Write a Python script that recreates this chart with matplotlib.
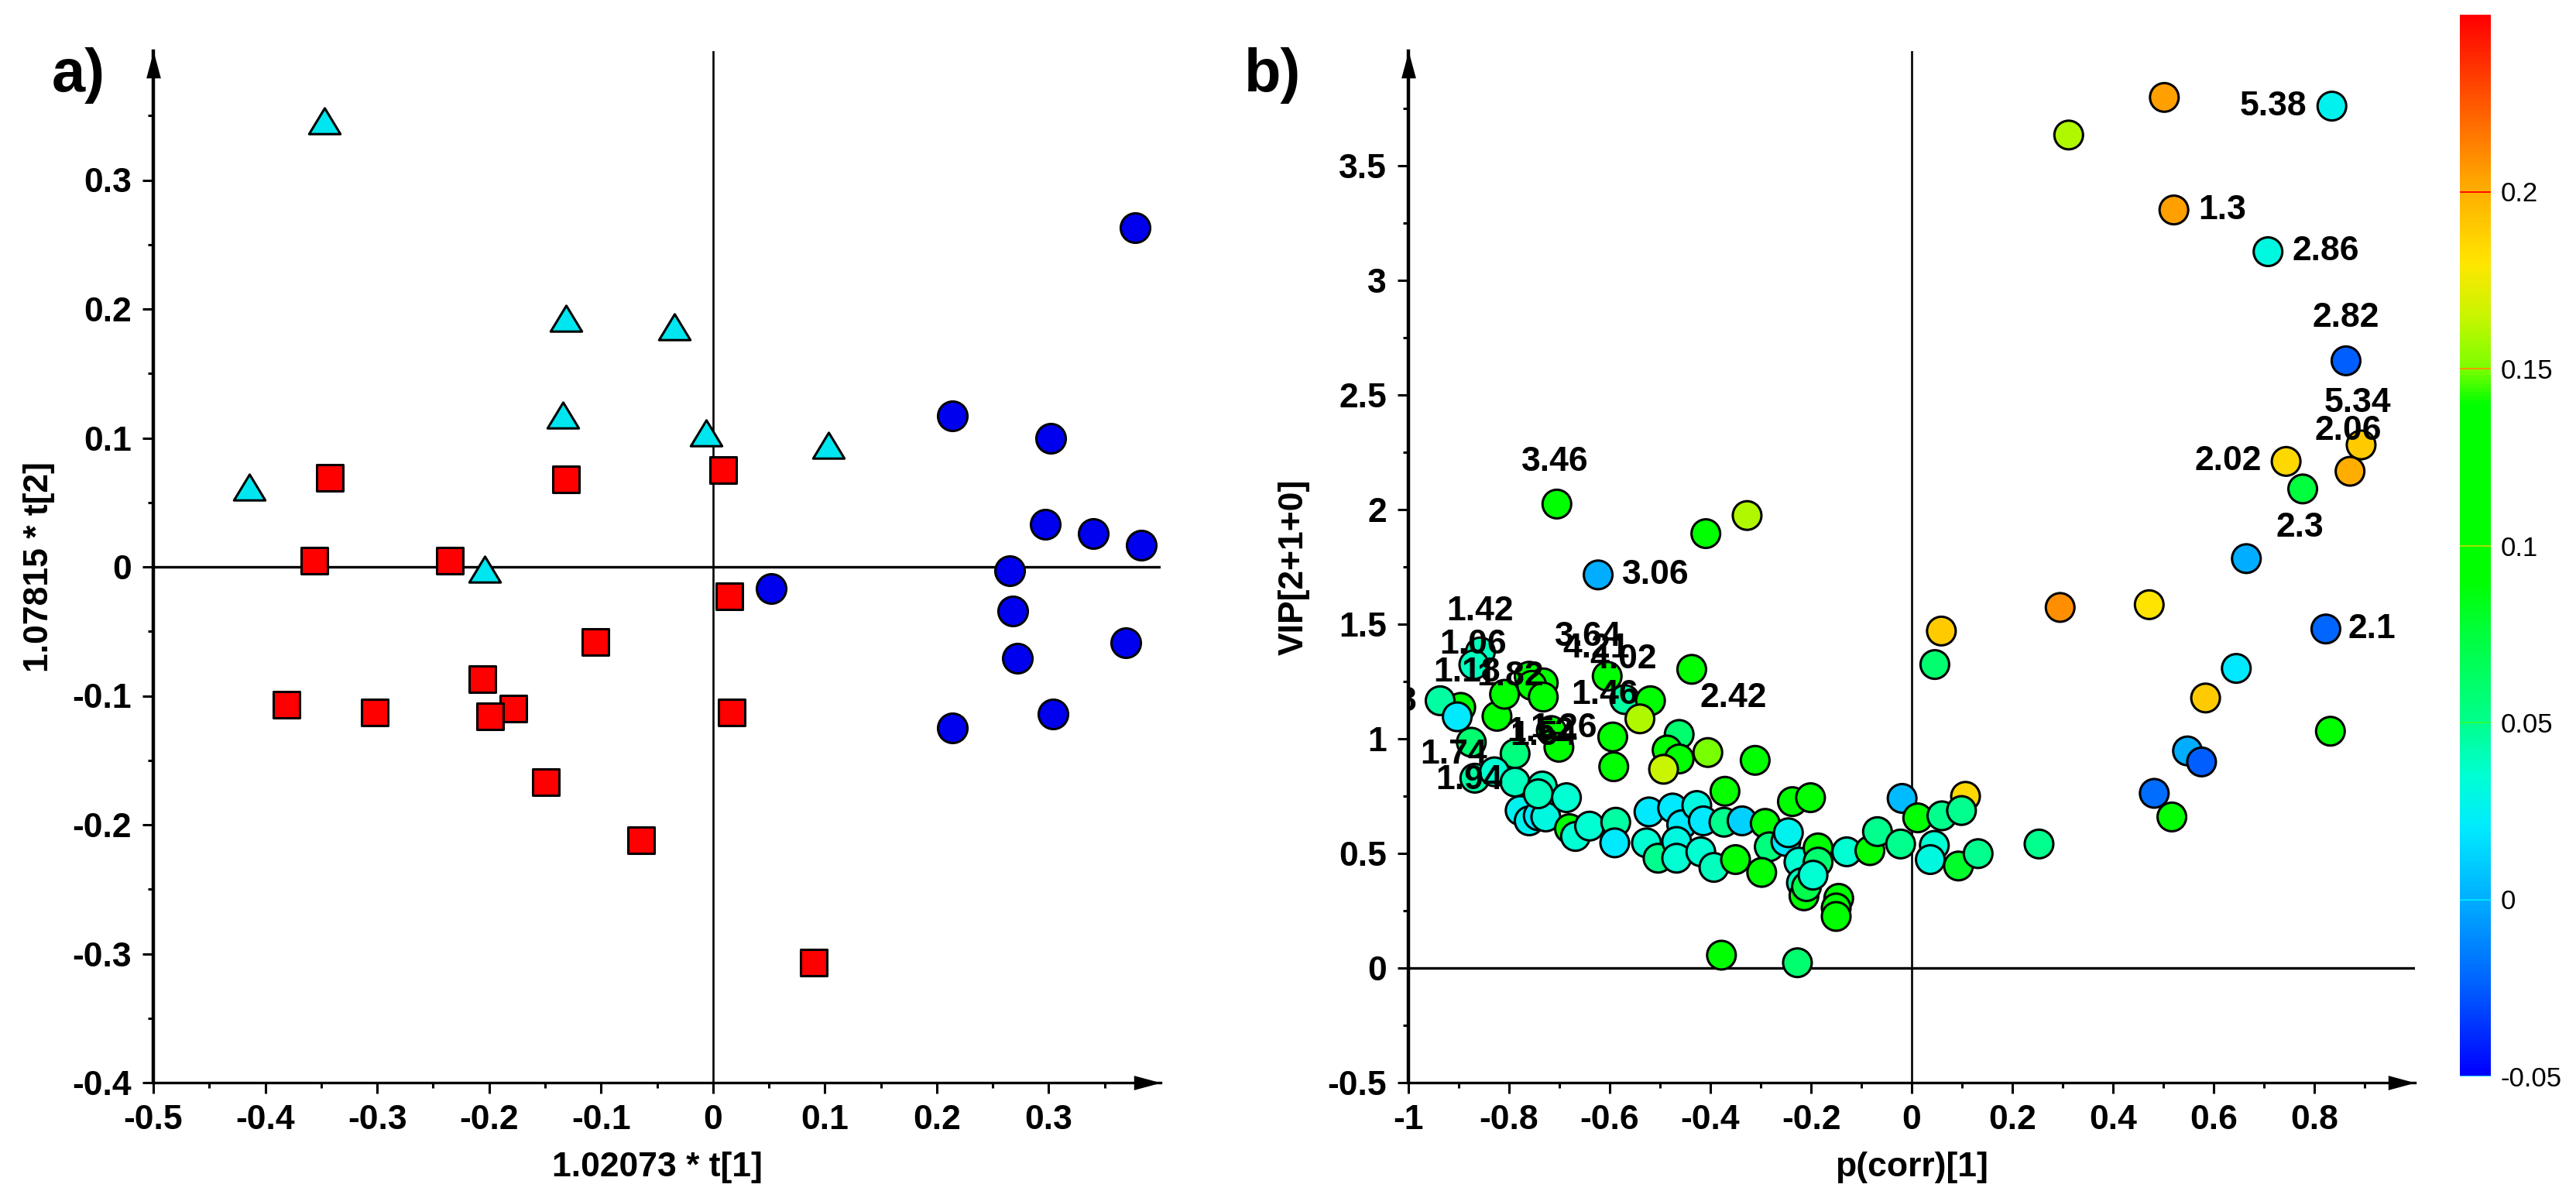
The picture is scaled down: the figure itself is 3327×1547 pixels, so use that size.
import numpy as np
import matplotlib
matplotlib.use('Agg')
import matplotlib.pyplot as plt
from matplotlib.colors import LinearSegmentedColormap, Normalize
from matplotlib.cm import ScalarMappable
from matplotlib.path import Path
from matplotlib.ticker import FixedLocator, FuncFormatter

plt.rcParams['font.family'] = ['Liberation Sans', 'DejaVu Sans']
plt.rcParams['axes.unicode_minus'] = False

# ---------------- Panel a data (score plot) ----------------
tri_x = [-0.347, -0.131, -0.0345, -0.134, -0.006, 0.103, -0.414, -0.204]
tri_y = [0.346, 0.193, 0.186, 0.118, 0.104, 0.094, 0.062, -0.002]

sq_x = [-0.342, -0.131, 0.009, -0.356, -0.235, 0.015, -0.105, -0.206,
        -0.381, -0.302, -0.178, -0.199, 0.017, -0.149, -0.064, 0.090]
sq_y = [0.069, 0.068, 0.075, 0.005, 0.005, -0.023, -0.058, -0.087,
        -0.107, -0.113, -0.110, -0.116, -0.113, -0.167, -0.212, -0.307]

circ_x = [0.377, 0.214, 0.302, 0.297, 0.340, 0.383, 0.265, 0.052,
          0.268, 0.369, 0.272, 0.304, 0.214]
circ_y = [0.263, 0.117, 0.100, 0.033, 0.026, 0.017, -0.003, -0.017,
          -0.034, -0.059, -0.071, -0.114, -0.125]

a_xticks = [-0.5, -0.4, -0.3, -0.2, -0.1, 0, 0.1, 0.2, 0.3]
a_yticks = [-0.4, -0.3, -0.2, -0.1, 0, 0.1, 0.2, 0.3]

# ---------------- Panel b data (VIP vs p(corr)) ----------------
pb_x = [0.835, 0.521, 0.708, 0.863, 0.893, 0.871, 0.744, 0.777, 0.823,
        -0.705, -0.623, -0.857, -0.896, -0.760, -0.605, -0.570, -0.437,
        -0.716, -0.875, -0.868, -0.937,
        -0.409, -0.327, -0.870, -0.824, -0.903, -0.809, -0.732, -0.755,
        -0.732, -0.788, -0.701, -0.519, -0.540, -0.594, -0.592, -0.462,
        -0.486, -0.462, -0.405, -0.311, -0.493,
        -0.829, -0.788, -0.778, -0.760, -0.742, -0.727, -0.734, -0.742,
        -0.686, -0.680, -0.668, -0.640, -0.588, -0.590, -0.522, -0.527,
        -0.504, -0.475, -0.457, -0.467, -0.467, -0.427, -0.414, -0.419,
        -0.393, -0.373, -0.371, -0.337, -0.350, -0.291, -0.283, -0.298,
        -0.250, -0.245, -0.237, -0.201, -0.224, -0.219, -0.214, -0.209,
        -0.186, -0.186, -0.196, -0.145, -0.150, -0.150, -0.129, -0.083,
        -0.068, -0.022, -0.019, 0.012, 0.060, 0.107, 0.099, 0.045, 0.037,
        0.093, 0.132, 0.253, -0.378, -0.227,
        0.502, 0.312, 0.295, 0.472, 0.059, 0.046, 0.645, 0.584, 0.832,
        0.548, 0.576, 0.482, 0.517, 0.665]
pb_y = [3.760, 3.307, 3.125, 2.649, 2.282, 2.167, 2.210, 2.090, 1.479,
        2.024, 1.715, 1.379, 1.137, 1.273, 1.273, 1.171, 1.303,
        1.036, 0.985, 0.828, 1.166,
        1.895, 1.974, 1.323, 1.098, 1.096, 1.194, 1.244, 1.233,
        1.182, 0.935, 0.963, 1.166, 1.087, 1.008, 0.878, 1.019,
        0.951, 0.912, 0.940, 0.906, 0.867,
        0.856, 0.811, 0.687, 0.642, 0.664, 0.659, 0.794, 0.760,
        0.743, 0.608, 0.574, 0.619, 0.636, 0.546, 0.681, 0.546,
        0.479, 0.698, 0.625, 0.552, 0.479, 0.709, 0.642, 0.507,
        0.439, 0.636, 0.771, 0.642, 0.473, 0.631, 0.529, 0.417,
        0.552, 0.590, 0.726, 0.743, 0.462, 0.372, 0.315, 0.355,
        0.524, 0.462, 0.405, 0.304, 0.262, 0.225, 0.507, 0.512,
        0.595, 0.541, 0.740, 0.655, 0.664, 0.749, 0.687, 0.535, 0.473,
        0.445, 0.499, 0.541, 0.056, 0.023,
        3.798, 3.634, 1.573, 1.585, 1.470, 1.324, 1.307, 1.178, 1.033,
        0.947, 0.899, 0.762, 0.659, 1.786]
pb_c = [0.025, 0.205, 0.03, -0.025, 0.19, 0.2, 0.185, 0.075, -0.022,
        0.1, 0.0, 0.04, 0.1, 0.1, 0.1, 0.045, 0.1,
        0.1, 0.06, 0.045, 0.045,
        0.1, 0.16, 0.04, 0.1, 0.02, 0.1, 0.1, 0.1,
        0.1, 0.055, 0.1, 0.1, 0.16, 0.1, 0.1, 0.06,
        0.1, 0.1, 0.15, 0.1, 0.165,
        0.035, 0.04, 0.025, 0.025, 0.02, 0.03, 0.04, 0.04,
        0.035, 0.1, 0.035, 0.035, 0.045, 0.02, 0.02, 0.035,
        0.05, 0.02, 0.02, 0.03, 0.035, 0.03, 0.02, 0.035,
        0.04, 0.05, 0.14, 0.012, 0.1, 0.1, 0.055, 0.1,
        0.02, 0.025, 0.1, 0.1, 0.035, 0.04, 0.1, 0.07,
        0.1, 0.06, 0.035, 0.1, 0.1, 0.1, 0.035, 0.1,
        0.05, 0.05, 0.005, 0.1, 0.05, 0.185, 0.05, 0.035, 0.03,
        0.08, 0.05, 0.05, 0.1, 0.06,
        0.205, 0.16, 0.21, 0.18, 0.19, 0.06, 0.02, 0.19, 0.09,
        0.0, -0.025, -0.02, 0.09, 0.0]

# labels: text, index of the labelled point, offset (px right, px down), alignment
lab_text = ['5.38', '1.3', '2.86', '2.82', '5.34', '2.06', '2.02', '2.3', '2.1',
            '3.46', '3.06', '1.42', '1.06', '1.18', '1.82', '3.64', '4.21',
            '4.02', '1.46', '2.42', '1.54', '1.26', '1.52', '1.74', '1.94', '1.38']
lab_idx = [0, 1, 2, 3, 4, 5, 6, 7, 8, 9, 10, 11, 11, 12, 13, 14, 14, 14, 15, 16,
           17, 17, 17, 18, 19, 20]
lab_dx = [-32, 32, 31, 0, -4, -2, -32, -4, 29, -2, 31, 0, -9, 8, -25, -24, -14,
          21, -26, 54, -10, 16, -14, -23, -7, -30]
lab_dy = [0, 0, 0, -55, -54, -52, 0, 50, 0, -54, 0, -52, -9, -45, 0, -51, -36,
          -22, -6, 37, 7, -3, 2, 16, 3, 2]
lab_ha = ['right', 'left', 'left', 'center', 'center', 'center', 'right', 'center',
          'left', 'center', 'left', 'center', 'center', 'center', 'center', 'center',
          'center', 'center', 'center', 'center', 'center', 'center', 'center',
          'center', 'center', 'right']

b_xticks = [-1, -0.8, -0.6, -0.4, -0.2, 0, 0.2, 0.4, 0.6, 0.8]
b_yticks = [-0.5, 0, 0.5, 1, 1.5, 2, 2.5, 3, 3.5]
cb_ticks = [-0.05, 0, 0.05, 0.1, 0.15, 0.2]

# ---------------- colour map ----------------
cmin, cmax = -0.05, 0.25
nodes = [(-0.05, (0, 0, 255)), (-0.025, (0, 95, 255)), (0.0, (0, 175, 255)),
         (0.02, (0, 235, 255)), (0.035, (0, 255, 210)), (0.05, (0, 255, 140)),
         (0.075, (0, 255, 60)), (0.09, (0, 255, 0)), (0.14, (0, 255, 0)),
         (0.15, (120, 255, 0)), (0.165, (200, 245, 0)), (0.18, (255, 230, 0)),
         (0.195, (255, 190, 0)), (0.205, (255, 160, 0)), (0.25, (255, 0, 0))]
cmap = LinearSegmentedColormap.from_list(
    'vipmap', [((v - cmin) / (cmax - cmin), tuple(ch / 255 for ch in col)) for v, col in nodes])
norm = Normalize(cmin, cmax)

# ---------------- figure ----------------
W, H = 3327, 1547
fig = plt.figure(figsize=(W / 100, H / 100), dpi=100)

FS = 32
PX = 0.72  # points per pixel at dpi 100

arrow_r = Path([(-1, -0.27), (0, 0), (-1, 0.27), (-1, -0.27)],
               [Path.MOVETO, Path.LINETO, Path.LINETO, Path.CLOSEPOLY])
arrow_u = Path([(-0.27, -1), (0, 0), (0.27, -1), (-0.27, -1)],
               [Path.MOVETO, Path.LINETO, Path.LINETO, Path.CLOSEPOLY])
tri_marker = Path([(0, 0.825), (-1, -0.825), (1, -0.825), (0, 0.825)],
                  [Path.MOVETO, Path.LINETO, Path.LINETO, Path.CLOSEPOLY])


def fmt(v, p):
    v = round(v, 6)
    if v == 0:
        return '0'
    return f'{v:g}'


def style_axes(ax, xmaj, xmin_, ymaj, ymin_, xlabel, ylabel):
    for s in ('top', 'right'):
        ax.spines[s].set_visible(False)
    ax.spines['left'].set_linewidth(3.2)
    ax.spines['bottom'].set_linewidth(2.4)
    ax.xaxis.set_major_locator(FixedLocator(xmaj))
    ax.xaxis.set_minor_locator(FixedLocator(xmin_))
    ax.yaxis.set_major_locator(FixedLocator(ymaj))
    ax.yaxis.set_minor_locator(FixedLocator(ymin_))
    ax.xaxis.set_major_formatter(FuncFormatter(fmt))
    ax.yaxis.set_major_formatter(FuncFormatter(fmt))
    ax.tick_params(which='major', length=10, width=2.2, labelsize=FS, pad=10)
    ax.tick_params(which='minor', length=5, width=2.2)
    for lab in ax.get_xticklabels() + ax.get_yticklabels():
        lab.set_fontweight('bold')
    ax.axhline(0, color='k', lw=2.4, zorder=1)
    ax.axvline(0, color='k', lw=1.9, zorder=1)
    ax.plot([1], [0], marker=arrow_r, ms=50, color='k', mew=0,
            transform=ax.transAxes, clip_on=False, zorder=6)
    ax.plot([0], [1], marker=arrow_u, ms=50, color='k', mew=0,
            transform=ax.transAxes, clip_on=False, zorder=6)
    ax.set_xlabel(xlabel, fontsize=FS, fontweight='bold')
    ax.set_ylabel(ylabel, fontsize=FS, fontweight='bold')
    ax.xaxis.set_label_coords(0.5, -0.067)
    ax.yaxis.set_label_coords(-0.098, 0.5)


# ---- panel a ----
axa = fig.add_axes([198 / W, 1 - 1398 / H, 1301 / W, 1332 / H])
axa.set_xlim(-0.5, 0.4)
axa.set_ylim(-0.4, 0.4)
style_axes(axa, a_xticks, [-0.45, -0.35, -0.25, -0.15, -0.05, 0.05, 0.15, 0.25, 0.35],
           a_yticks, [-0.35, -0.25, -0.15, -0.05, 0.05, 0.15, 0.25, 0.35],
           '1.02073 * t[1]', '1.07815 * t[2]')
axa.scatter(tri_x, tri_y, s=850, marker=tri_marker, c='#00E6F0', edgecolors='k',
            linewidths=2.2, zorder=3)
axa.scatter(sq_x, sq_y, s=600, marker='s', c='#FF0000', edgecolors='k',
            linewidths=2.2, zorder=3)
axa.scatter(circ_x, circ_y, s=750, marker='o', c='#0000EE', edgecolors='k',
            linewidths=2.2, zorder=3)

# ---- panel b ----
axb = fig.add_axes([1819 / W, 1 - 1398 / H, 1300 / W, 1332 / H])
axb.set_xlim(-1, 1.0)
axb.set_ylim(-0.5, 4.0)
style_axes(axb, b_xticks, [-0.9, -0.7, -0.5, -0.3, -0.1, 0.1, 0.3, 0.5, 0.7, 0.9],
           b_yticks, [-0.25, 0.25, 0.75, 1.25, 1.75, 2.25, 2.75, 3.25, 3.75],
           'p(corr)[1]', 'VIP[2+1+0]')
axb.scatter(pb_x, pb_y, s=710, c=pb_c, cmap=cmap, norm=norm, edgecolors='k',
            linewidths=2.2, zorder=3)
for t, i, dx, dy, ha in zip(lab_text, lab_idx, lab_dx, lab_dy, lab_ha):
    axb.annotate(t, xy=(pb_x[i], pb_y[i]), xytext=(dx * PX, -dy * PX),
                 textcoords='offset points', ha=ha, va='center', fontsize=FS,
                 fontweight='bold', zorder=5, annotation_clip=False, clip_on=True)

# ---- panel letters ----
fig.text(67 / W, 1 - 118 / H, 'a)', fontsize=56, fontweight='bold',
         ha='left', va='baseline')
fig.text(1680 / W, 1 - 118 / H, 'b)', fontsize=56, fontweight='bold',
         ha='right', va='baseline')

# ---- colour bar ----
cax = fig.add_axes([3177 / W, 1 - 1390 / H, 40 / W, 1371 / H])
cb = fig.colorbar(ScalarMappable(norm=norm, cmap=cmap), cax=cax)
cb.outline.set_visible(False)
cb.set_ticks(cb_ticks)
cb.ax.yaxis.set_major_formatter(FuncFormatter(fmt))
cb.ax.tick_params(length=0, pad=9, labelsize=25)
cb_line_cols = ['#00E0FF', '#00E8FF', '#30FF30', '#B0E000', '#FF9000', '#FF0000']
for v, col in zip(cb_ticks, cb_line_cols):
    cax.axhline(v, color=col, lw=1.3)

fig.savefig('out.png', dpi=100)
